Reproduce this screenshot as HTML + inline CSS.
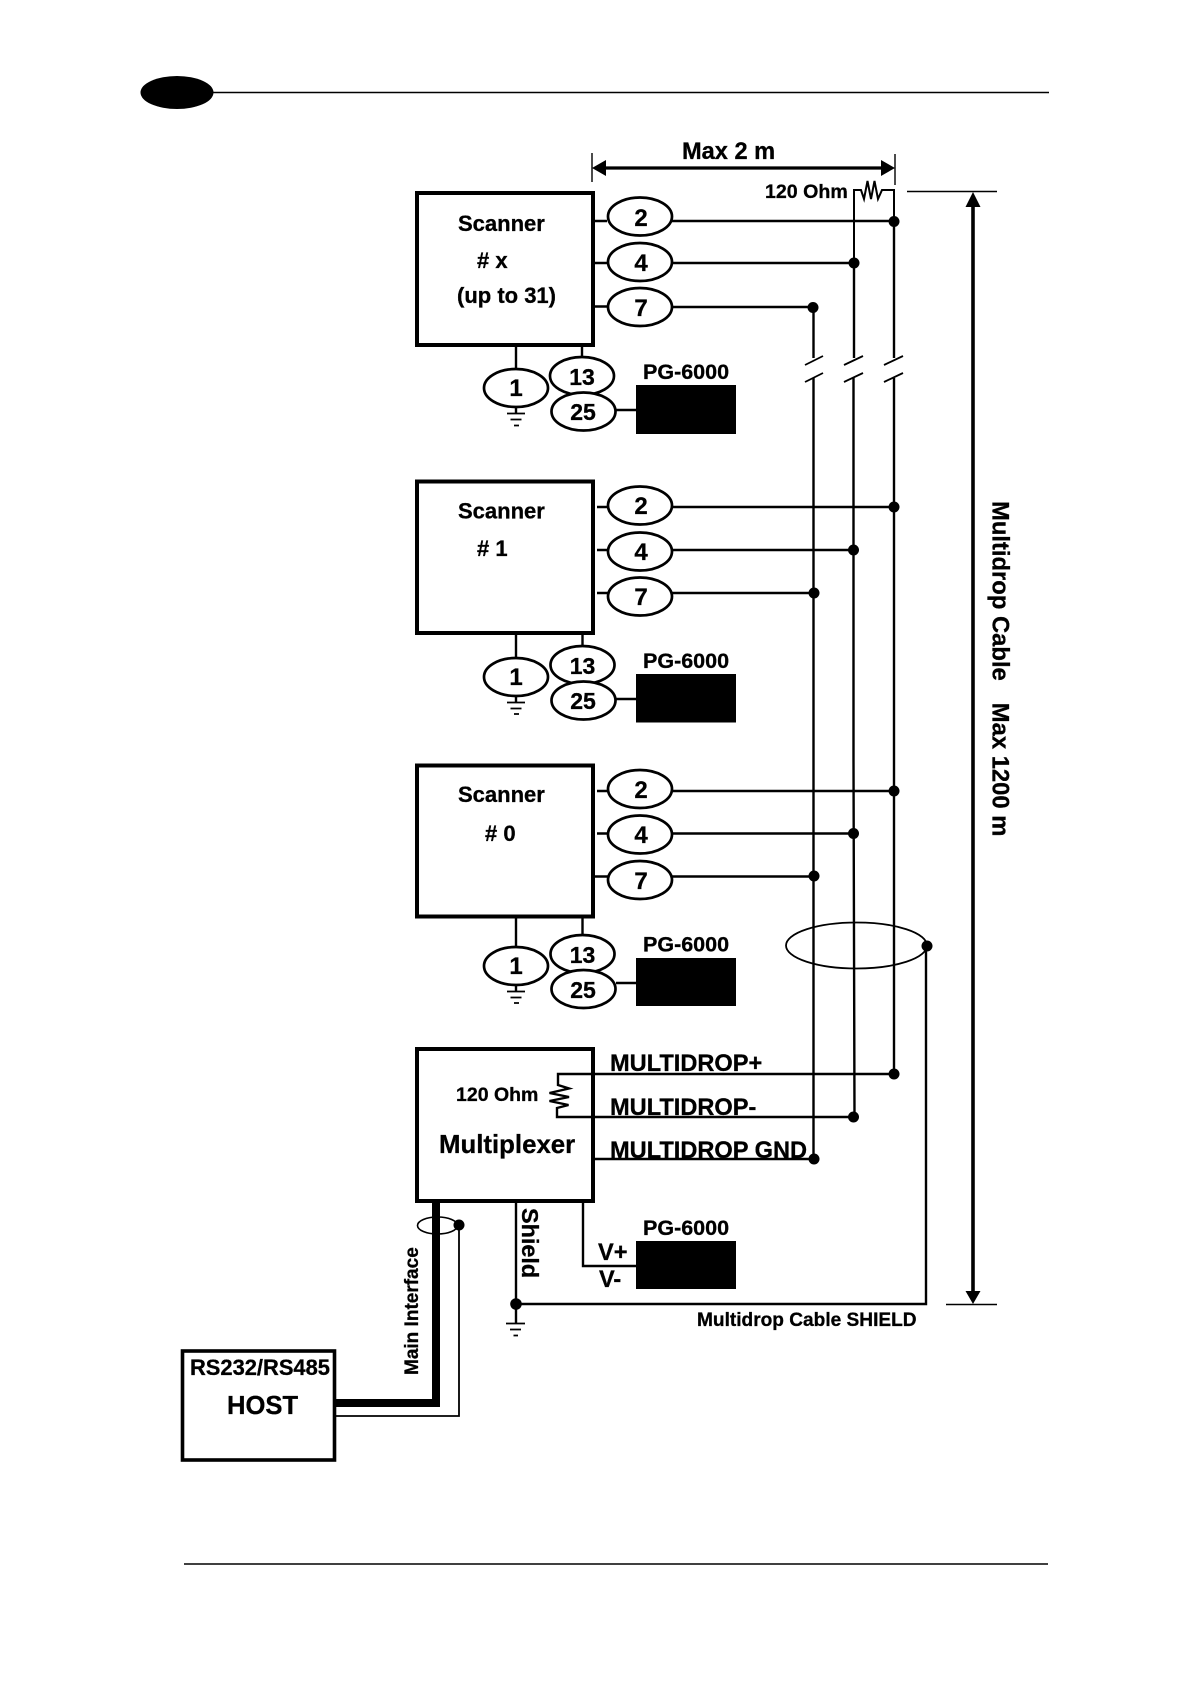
<!DOCTYPE html>
<html><head><meta charset="utf-8"><title>Multidrop diagram</title>
<style>
html,body{margin:0;padding:0;background:#fff}
svg{display:block}
text{font-family:"Liberation Sans",sans-serif;font-weight:bold;fill:#000;stroke:#000;stroke-width:.3}
.w{stroke:#000;stroke-width:2.4;fill:none}
.t{stroke:#000;stroke-width:1.4;fill:none}
.b{stroke:#000;stroke-width:4;fill:#fff}
.p{stroke:#000;stroke-width:2.7;fill:#fff}
.n{font-size:24px;text-anchor:middle}
.s{font-size:22px}
.g{font-size:21.5px}
.m{font-size:23.6px}
</style></head><body>
<svg width="1190" height="1684" viewBox="0 0 1190 1684" xmlns="http://www.w3.org/2000/svg">
<rect width="1190" height="1684" fill="#fff"/>
<!-- header / footer -->
<ellipse cx="177" cy="92.5" rx="36.5" ry="16.5" fill="#000"/>
<path class="t" d="M205 92.5H1049"/>
<path class="t" d="M184 1564H1048"/>

<!-- dimension Max 2 m -->
<path class="t" d="M592 153V182M895 154V185"/>
<path d="M603 168H884" stroke="#000" stroke-width="3.2" fill="none"/>
<path d="M592 168L606 160V176ZM895 168L881 160V176Z" fill="#000"/>
<text x="682" y="159" font-size="23.6">Max 2 m</text>

<!-- dimension Multidrop cable -->
<path class="t" d="M907 191.5H997M946 1304.5H997"/>
<path d="M973 203V1293" stroke="#000" stroke-width="3.6" fill="none"/>
<path d="M973 192L965.5 207H980.5ZM973 1304L965.5 1291H980.5Z" fill="#000"/>
<g transform="translate(992.5,501) rotate(90)"><text x="0" y="0" font-size="23.8">Multidrop Cable<tspan dx="22">Max 1200 m</tspan></text></g>

<!-- top resistor -->
<text x="765" y="198" font-size="19.6">120 Ohm</text>
<path class="w" style="stroke-width:2" d="M854 262V190H861L864 199L867.5 181L871 199L874.5 181L878 199L882 190H894V221"/>

<!-- bus verticals -->
<path class="w" d="M813.5 307V358M854 262V358M894 221V358"/>
<path class="w" d="M813.5 378V1159M853.5 378V760L854.5 1117M894 378V1074"/>
<path class="t" style="stroke-width:1.8" d="M805 365L823 356M805 382L823 373M844 365L863 356M844 382L863 373M884 365L903 356M884 382L903 373"/>

<!-- Scanner x -->
<rect class="b" x="417" y="193" width="176" height="152"/>
<text class="s" x="458" y="231">Scanner</text>
<text class="s" x="477" y="268">#&#160;x</text>
<text class="s" x="457" y="303">(up to 31)</text>
<path class="w" d="M595 221H607M595 263H607M595 306.5H607M672 221H894M672 263H854M672 307H813"/>
<ellipse class="p" cx="640" cy="216.5" rx="32" ry="19"/>
<ellipse class="p" cx="640" cy="262" rx="32" ry="19"/>
<ellipse class="p" cx="640" cy="307" rx="32" ry="19"/>
<text class="n" x="641" y="226">2</text><text class="n" x="641" y="271">4</text><text class="n" x="641" y="316">7</text>
<circle cx="894" cy="221.5" r="5.5"/><circle cx="854" cy="263" r="5.5"/><circle cx="813" cy="307.5" r="5.5"/>
<path class="w" d="M516 347V368M582 347V357M616 410H636M516 407V413"/>
<path class="w" style="stroke-width:1.8" d="M507 413.5H525M510.5 419.5H521.5M514 425.5H519"/>
<ellipse class="p" cx="582" cy="376" rx="32" ry="19"/>
<ellipse class="p" cx="583.5" cy="411.5" rx="32" ry="19"/>
<ellipse class="p" cx="516" cy="388" rx="32" ry="19"/>
<text class="n" x="516" y="396">1</text><text class="n" x="582" y="385" style="font-size:23px">13</text><text class="n" x="583" y="420" style="font-size:23px">25</text>
<rect x="636" y="385" width="100" height="49" fill="#000"/>
<text class="g" x="643" y="379">PG-6000</text>

<!-- Scanner 1 -->
<rect class="b" x="417" y="481.5" width="176" height="151.5"/>
<text class="s" x="458" y="518.5">Scanner</text>
<text class="s" x="477" y="556">#&#160;1</text>
<path class="w" d="M597 507H608M597 550H608M597 593H608M672 507H894M672 550H854M672 593H814"/>
<ellipse class="p" cx="640" cy="505.5" rx="32" ry="19"/>
<ellipse class="p" cx="640" cy="551.5" rx="32" ry="19"/>
<ellipse class="p" cx="640" cy="596.5" rx="32" ry="19"/>
<text class="n" x="641" y="514">2</text><text class="n" x="641" y="560">4</text><text class="n" x="641" y="605">7</text>
<circle cx="894" cy="507" r="5.5"/><circle cx="853.5" cy="550" r="5.5"/><circle cx="814" cy="593" r="5.5"/>
<path class="w" d="M516 635V657M582.5 635V646M616 699H636M516 697V702"/>
<path class="w" style="stroke-width:1.8" d="M507 702.5H525M510.5 708.5H521.5M514 714H519"/>
<ellipse class="p" cx="582.5" cy="665" rx="32" ry="19"/>
<ellipse class="p" cx="583.5" cy="700.5" rx="32" ry="19"/>
<ellipse class="p" cx="516" cy="677" rx="32" ry="19"/>
<text class="n" x="516" y="685">1</text><text class="n" x="582.5" y="674" style="font-size:23px">13</text><text class="n" x="583" y="709" style="font-size:23px">25</text>
<rect x="636" y="674" width="100" height="48.5" fill="#000"/>
<text class="g" x="643" y="668">PG-6000</text>

<!-- Scanner 0 -->
<rect class="b" x="417" y="765.5" width="176" height="151"/>
<text class="s" x="458" y="802">Scanner</text>
<text class="s" x="485" y="841">#&#160;0</text>
<path class="w" d="M597 791H608M597 833.5H608M595 876.5H608M672 791H894M672 833.5H854M672 876.5H814"/>
<ellipse class="p" cx="640" cy="789" rx="32" ry="19"/>
<ellipse class="p" cx="640" cy="834.5" rx="32" ry="19"/>
<ellipse class="p" cx="640" cy="880" rx="32" ry="19"/>
<text class="n" x="641" y="798">2</text><text class="n" x="641" y="843">4</text><text class="n" x="641" y="889">7</text>
<circle cx="894" cy="791" r="5.5"/><circle cx="853.5" cy="833.5" r="5.5"/><circle cx="814" cy="876" r="5.5"/>
<path class="w" d="M516 918V947M582.5 918V935M616 983H636M516 985V991"/>
<path class="w" style="stroke-width:1.8" d="M507 991.5H525M510.5 997.5H521.5M514 1003H519"/>
<ellipse class="p" cx="582.5" cy="954" rx="32" ry="19"/>
<ellipse class="p" cx="583.5" cy="989" rx="32" ry="19"/>
<ellipse class="p" cx="516" cy="966" rx="32" ry="19"/>
<text class="n" x="516" y="974">1</text><text class="n" x="582.5" y="963" style="font-size:23px">13</text><text class="n" x="583" y="998" style="font-size:23px">25</text>
<rect x="636" y="958" width="100" height="48" fill="#000"/>
<text class="g" x="643" y="951.5">PG-6000</text>

<!-- cable shield -->
<ellipse cx="856.5" cy="945.5" rx="70.5" ry="23" fill="none" stroke="#000" stroke-width="1.8"/>
<circle cx="927" cy="946" r="5.5"/>
<path class="w" d="M926 946V1304H516"/>

<!-- Multiplexer -->
<rect class="b" x="417" y="1049" width="176" height="152"/>
<text x="456" y="1101" font-size="19.5">120 Ohm</text>
<text x="439" y="1153" font-size="25.8">Multiplexer</text>
<path class="w" d="M894 1074H558V1085L569 1088.5L549.5 1093L569 1097L549.5 1101L568.5 1105L557 1108V1117H853.5"/>
<path class="w" d="M595 1159H814"/>
<text class="m" x="610" y="1071">MULTIDROP+</text>
<text class="m" x="610" y="1115">MULTIDROP-</text>
<text class="m" x="610" y="1158">MULTIDROP GND</text>
<circle cx="894" cy="1074" r="5.5"/><circle cx="853.5" cy="1117" r="5.5"/><circle cx="814" cy="1159" r="5.5"/>

<!-- power & shield -->
<path class="w" d="M583 1203V1266H636"/>
<rect x="636" y="1241" width="100" height="48" fill="#000"/>
<text class="g" x="643" y="1235">PG-6000</text>
<text x="598" y="1260" font-size="23.6">V+</text>
<text x="599" y="1287" font-size="23.6">V-</text>
<path class="w" d="M516 1203V1323"/>
<circle cx="516" cy="1304" r="5.8"/>
<path class="w" style="stroke-width:1.8" d="M506 1323.5H525M510 1329.5H521M513.5 1335.5H518"/>
<g transform="translate(522,1208) rotate(90)"><text font-size="23.4">Shield</text></g>
<text x="697" y="1326" font-size="19.1">Multidrop Cable SHIELD</text>

<!-- Host -->
<rect x="182.5" y="1351" width="152" height="109" fill="#fff" stroke="#000" stroke-width="3.6"/>
<text x="190" y="1375" font-size="21.9">RS232/RS485</text>
<text x="227" y="1414" font-size="25.6">HOST</text>
<path d="M336 1403H436V1203" stroke="#000" stroke-width="8" fill="none"/>
<path class="w" style="stroke-width:1.8" d="M336 1416H459V1225"/>
<ellipse cx="437.5" cy="1225.5" rx="20" ry="8.5" fill="none" stroke="#000" stroke-width="1.6"/>
<path d="M436 1217V1234" stroke="#000" stroke-width="8"/>
<circle cx="459" cy="1225" r="5.5"/>
<g transform="translate(418,1375) rotate(-90)"><text font-size="19">Main Interface</text></g>
</svg>
</body></html>
